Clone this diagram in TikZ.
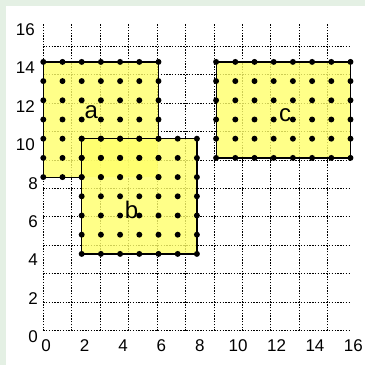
\documentclass[tikz,border=0pt]{standalone}
\usepackage{fontspec}
\setmainfont{Liberation Sans}
\definecolor{bggreen}{RGB}{228,240,228}
\definecolor{fillyel}{rgb}{1,1,0.42}
\begin{document}
\begin{tikzpicture}[x=19.2pt,y=19.2pt,
  gridline/.style={line width=0.9pt, dash pattern=on 1.4pt off 1.4pt},
  region/.style={fill=fillyel, fill opacity=0.8},
  outline/.style={line width=1.2pt},
  tick/.style={font=\fontsize{17}{17}\selectfont, inner sep=0pt},
  lbl/.style={font=\fontsize{24}{24}\selectfont, inner sep=0pt},
  pt/.style={radius=0.155}]
\useasboundingbox (-2.255,-1.786) rectangle (16.755,17.224);
\fill[white] (-2.255,-1.786) rectangle (16.755,17.224);
\fill[bggreen] (-2.255,-1.786) rectangle (-1.943,17.224);
\fill[bggreen] (-2.255,16.911) rectangle (16.755,17.224);
\draw[gridline] (0,0) grid (16,16);
\fill[region] (0,8) rectangle (6,14);
\fill[region] (2,4) rectangle (8,10);
\fill[region] (9,9) rectangle (16,14);
\draw[outline] (2,8) -- (0,8) -- (0,14) -- (6,14) -- (6,10);
\draw[outline] (2,4) rectangle (8,10);
\draw[outline] (9,9) rectangle (16,14);
\foreach \x in {0,...,6} \foreach \y in {8,...,14} \fill[pt] (\x,\y) circle;
\foreach \x in {2,...,8} \foreach \y in {4,...,10} \fill[pt] (\x,\y) circle;
\foreach \x in {9,...,16} \foreach \y in {9,...,14} \fill[pt] (\x,\y) circle;
\node[lbl] (la) at (2.5,11.4) {a};
\node[lbl] (lb) at (4.6,6.3) {b};
\node[lbl] (lc) at (12.6,11.25) {c};
\foreach \i in {0,2,...,16} \node[tick, anchor=north] (x\i) at (\i+0.15,-0.48) {\i};
\foreach \i in {0,2,4,6,8} \node[tick, anchor=north east] (y\i) at (-0.28,\i) {\i};
\foreach \i in {10,12,14,16} \node[tick, anchor=north east] (y\i) at (-0.43,\i) {\i};
\end{tikzpicture}
\end{document}
